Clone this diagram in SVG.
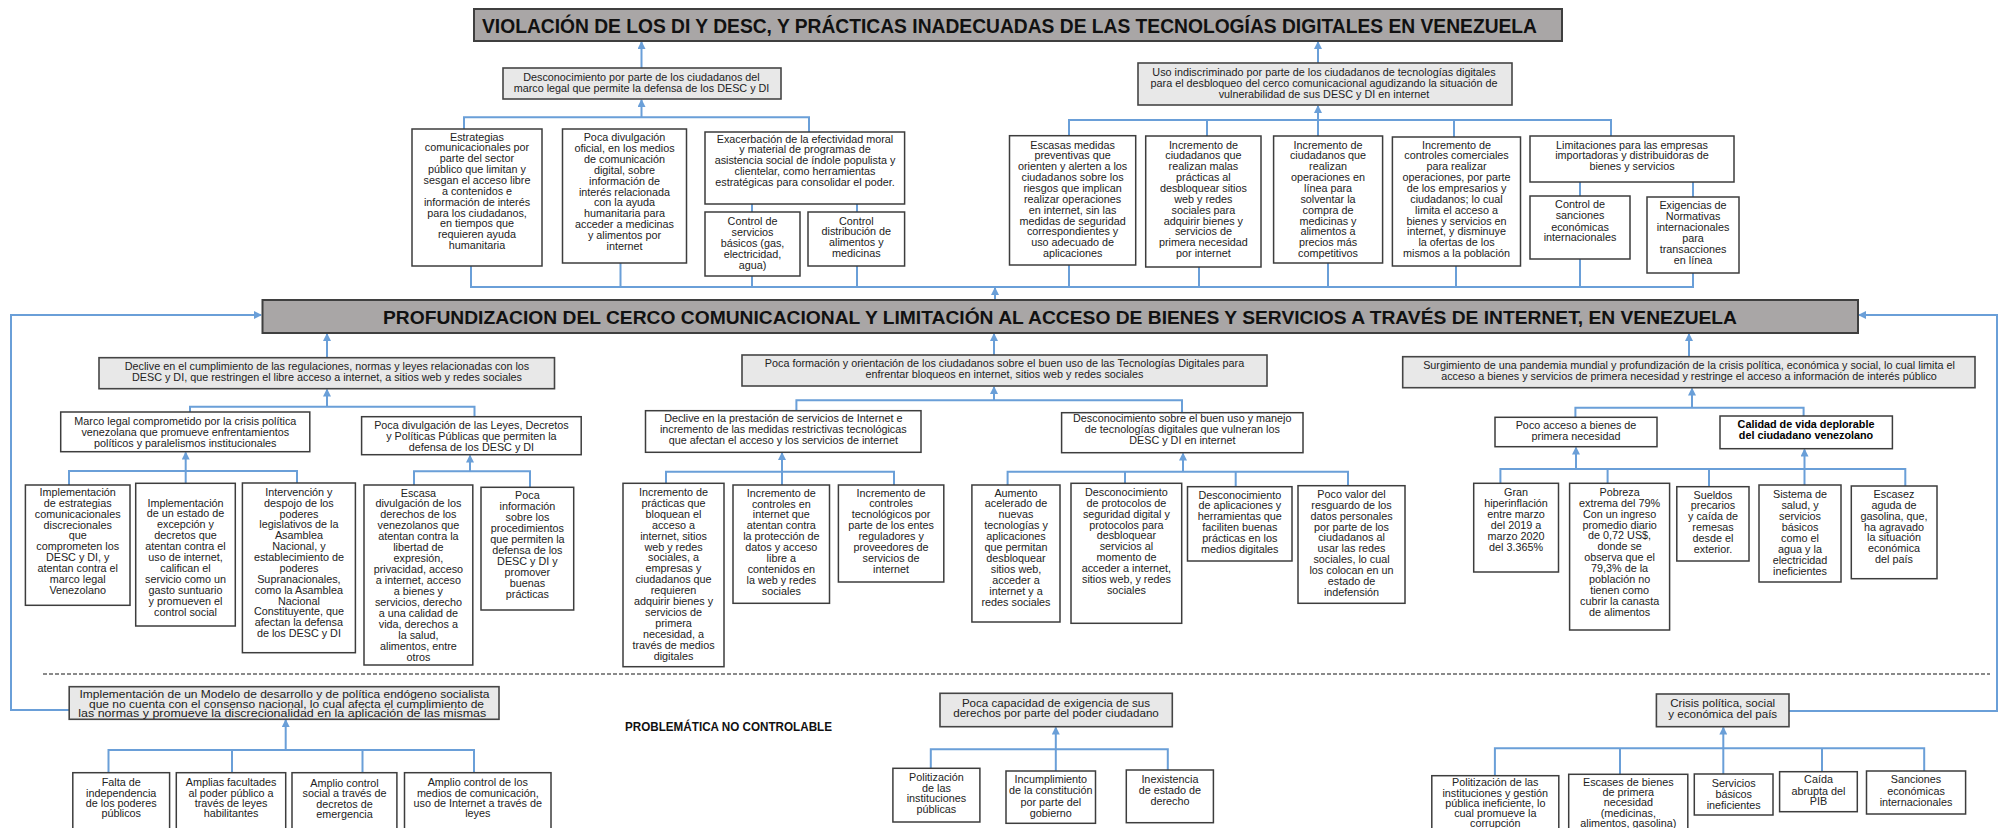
<svg xmlns="http://www.w3.org/2000/svg" width="2000" height="828" viewBox="0 0 2000 828">
<defs>
<style>
.b{fill:#fff;stroke:#3d3d3d;stroke-width:1.5}
.g{fill:#e8e8e8;stroke:#454545;stroke-width:1.6}
.h{fill:#a9a6a6;stroke:#3f3f3f;stroke-width:2}
text{font-family:'Liberation Sans',Arial,sans-serif;fill:#222;text-anchor:middle}
.t{font-size:10.8px}
.m{font-size:11.6px}
.bold{font-weight:bold}
.ttl{font-size:19.5px;font-weight:bold;fill:#111;text-anchor:start}
.c{fill:none;stroke:#6a9fd8;stroke-width:2}
.a{fill:none;stroke:#6a9fd8;stroke-width:2;marker-end:url(#ar)}
.d{fill:none;stroke:#8a8a8a;stroke-width:2;stroke-dasharray:4 2}
</style>
<marker id="ar" markerUnits="userSpaceOnUse" markerWidth="8" markerHeight="8" refX="7" refY="4" orient="auto">
<path d="M0,0 L8,4 L0,8 z" fill="#6a9fd8"/>
</marker>
</defs>
<rect width="2000" height="828" fill="#fff"/>

<g id="connectors">
<path class="a" d="M641.5,68 V42"/>
<path class="a" d="M641.5,117.3 V100"/>
<path class="c" d="M464,129 V117.3 H809 V132"/>
<path class="a" d="M1318,63 V42"/>
<path class="a" d="M1318,136 V106"/>
<path class="c" d="M1069,136 V120 H1611 V136 M1207,120 V136 M1454,120 V137"/>
<path class="c" d="M752,204 V212 M857,204 V212 M1580,182 V196 M1693,182 V197"/>
<path class="c" d="M471,266 V287 H1693 V273 M620.5,263 V287 M752,276 V287 M857,266 V287 M1069,265 V287 M1199,267 V287 M1328,263 V287 M1456,266 V287 M1580,259 V287"/>
<path class="a" d="M995,300 V288"/>
<path class="a" d="M69,710 H11 V315 H261"/>
<path class="a" d="M1789,711 H1997 V315 H1859"/>
<path class="a" d="M327,358 V334"/>
<path class="a" d="M327,406.7 V389.5"/>
<path class="c" d="M190,412 V406.7 H474.5 V416.7"/>
<path class="a" d="M185.7,483 V452.5"/>
<path class="c" d="M69,485 V471 H297 V483"/>
<path class="a" d="M470,471.3 V455.5"/>
<path class="c" d="M414,485 V471.3 H530 V487.3"/>
<path class="a" d="M994,355 V334"/>
<path class="a" d="M994,400.3 V387"/>
<path class="c" d="M796.4,410.7 V400.3 H1182 V412.7"/>
<path class="a" d="M782,485 V453"/>
<path class="c" d="M666,483.3 V471.7 H894 V485"/>
<path class="a" d="M1183,471.7 V453.5"/>
<path class="c" d="M1007.6,485 V471.7 H1348 V485.7 M1125,483.3 V471.7 M1235.7,486.7 V471.7"/>
<path class="a" d="M1689,356.7 V334"/>
<path class="a" d="M1692,407.7 V388.5"/>
<path class="c" d="M1575.4,417.3 V407.7 H1803.6 V416"/>
<path class="a" d="M1576,469 V447.5"/>
<path class="a" d="M1804.5,485 V449.5"/>
<path class="c" d="M1500.4,483.3 V469 H1905.3 V486 M1607.6,483.3 V469 M1709,486.7 V469"/>
<path class="a" d="M285.7,750 V720"/>
<path class="c" d="M108.5,772.7 V750 H474 V772.7 M232,772.7 V750 M362.5,772.7 V750"/>
<path class="a" d="M1055.8,771 V727.5"/>
<path class="c" d="M930.8,768.3 V749.3 H1167.8 V770"/>
<path class="a" d="M1723.3,774 V727.5"/>
<path class="c" d="M1494.9,775.7 V748.3 H1924.2 V771 M1620,774.3 V748.3 M1822,771.7 V748.3"/>
<path class="d" d="M43,674 H1990"/>
</g>

<g id="title">
<rect class="h" x="474" y="9" width="1088" height="32"/>
<text class="ttl" x="482" y="32.5" textLength="1055" lengthAdjust="spacingAndGlyphs">VIOLACIÓN DE LOS DI Y DESC, Y PRÁCTICAS INADECUADAS DE LAS TECNOLOGÍAS DIGITALES EN VENEZUELA</text>
</g>

<g id="n_desconocimiento_marco">
<rect class="g" x="503" y="68" width="278" height="31"/>
<text class="t"><tspan x="641.5" y="80.5">Desconocimiento por parte de los ciudadanos del</tspan><tspan x="641.5" y="91.5">marco legal que permite la defensa de los DESC y DI</tspan></text>
</g>

<g id="n_uso">
<rect class="g" x="1138" y="63" width="374" height="42"/>
<text class="t"><tspan x="1324" y="76">Uso indiscriminado por parte de los ciudadanos de tecnologías digitales</tspan><tspan x="1324" y="87">para el desbloqueo del cerco comunicacional agudizando la situación de</tspan><tspan x="1324" y="98">vulnerabilidad de sus DESC y DI en internet</tspan></text>
</g>

<g id="n_estrategias">
<rect class="b" x="412" y="129" width="130" height="137"/>
<text class="t"><tspan x="477" y="140.5">Estrategias</tspan><tspan x="477" y="151.4">comunicacionales por</tspan><tspan x="477" y="162.2">parte del sector</tspan><tspan x="477" y="173.1">público que limitan y</tspan><tspan x="477" y="183.9">sesgan el acceso libre</tspan><tspan x="477" y="194.8">a contenidos e</tspan><tspan x="477" y="205.7">información de interés</tspan><tspan x="477" y="216.5">para los ciudadanos,</tspan><tspan x="477" y="227.4">en tiempos que</tspan><tspan x="477" y="238.2">requieren ayuda</tspan><tspan x="477" y="249.1">humanitaria</tspan></text>
</g>

<g id="n_poca_div_oficial">
<rect class="b" x="562.5" y="129" width="124" height="134"/>
<text class="t"><tspan x="624.5" y="141.1">Poca divulgación</tspan><tspan x="624.5" y="152">oficial, en los medios</tspan><tspan x="624.5" y="162.9">de comunicación</tspan><tspan x="624.5" y="173.7">digital, sobre</tspan><tspan x="624.5" y="184.6">información de</tspan><tspan x="624.5" y="195.5">interés relacionada</tspan><tspan x="624.5" y="206.3">con la ayuda</tspan><tspan x="624.5" y="217.2">humanitaria para</tspan><tspan x="624.5" y="228.1">acceder a medicinas</tspan><tspan x="624.5" y="238.9">y alimentos por</tspan><tspan x="624.5" y="249.8">internet</tspan></text>
</g>

<g id="n_exacerbacion">
<rect class="b" x="705" y="132" width="199.6" height="72"/>
<text class="t"><tspan x="805" y="142.5">Exacerbación de la efectividad moral</tspan><tspan x="805" y="153.4">y material de programas de</tspan><tspan x="805" y="164.3">asistencia social de índole populista y</tspan><tspan x="805" y="175.2">clientelar, como herramientas</tspan><tspan x="805" y="186.1">estratégicas para consolidar el poder.</tspan></text>
</g>

<g id="n_control_servicios">
<rect class="b" x="705" y="212" width="95" height="64"/>
<text class="t"><tspan x="752.5" y="224.5">Control de</tspan><tspan x="752.5" y="235.5">servicios</tspan><tspan x="752.5" y="246.5">básicos (gas,</tspan><tspan x="752.5" y="257.5">electricidad,</tspan><tspan x="752.5" y="268.5">agua)</tspan></text>
</g>

<g id="n_control_distribucion">
<rect class="b" x="808" y="212" width="96.6" height="54"/>
<text class="t"><tspan x="856.3" y="224.5">Control</tspan><tspan x="856.3" y="235.4">distribución de</tspan><tspan x="856.3" y="246.3">alimentos y</tspan><tspan x="856.3" y="257.2">medicinas</tspan></text>
</g>

<g id="n_escasas">
<rect class="b" x="1009.5" y="135.7" width="126.2" height="129.3"/>
<text class="t"><tspan x="1072.6" y="148.5">Escasas medidas</tspan><tspan x="1072.6" y="159.4">preventivas que</tspan><tspan x="1072.6" y="170.2">orienten y alerten a los</tspan><tspan x="1072.6" y="181.1">ciudadanos sobre los</tspan><tspan x="1072.6" y="191.9">riesgos que implican</tspan><tspan x="1072.6" y="202.8">realizar operaciones</tspan><tspan x="1072.6" y="213.7">en internet, sin las</tspan><tspan x="1072.6" y="224.5">medidas de seguridad</tspan><tspan x="1072.6" y="235.4">correspondientes y</tspan><tspan x="1072.6" y="246.2">uso adecuado de</tspan><tspan x="1072.6" y="257.1">aplicaciones</tspan></text>
</g>

<g id="n_malas_practicas">
<rect class="b" x="1145.7" y="136" width="115.3" height="131"/>
<text class="t"><tspan x="1203.4" y="148.5">Incremento de</tspan><tspan x="1203.4" y="159.4">ciudadanos que</tspan><tspan x="1203.4" y="170.2">realizan malas</tspan><tspan x="1203.4" y="181.1">prácticas al</tspan><tspan x="1203.4" y="191.9">desbloquear sitios</tspan><tspan x="1203.4" y="202.8">web y redes</tspan><tspan x="1203.4" y="213.7">sociales para</tspan><tspan x="1203.4" y="224.5">adquirir bienes y</tspan><tspan x="1203.4" y="235.4">servicios de</tspan><tspan x="1203.4" y="246.2">primera necesidad</tspan><tspan x="1203.4" y="257.1">por internet</tspan></text>
</g>

<g id="n_operaciones_linea">
<rect class="b" x="1273.6" y="136" width="109" height="127"/>
<text class="t"><tspan x="1328" y="148.5">Incremento de</tspan><tspan x="1328" y="159.4">ciudadanos que</tspan><tspan x="1328" y="170.2">realizan</tspan><tspan x="1328" y="181.1">operaciones en</tspan><tspan x="1328" y="191.9">línea para</tspan><tspan x="1328" y="202.8">solventar la</tspan><tspan x="1328" y="213.7">compra de</tspan><tspan x="1328" y="224.5">medicinas y</tspan><tspan x="1328" y="235.4">alimentos a</tspan><tspan x="1328" y="246.2">precios más</tspan><tspan x="1328" y="257.1">competitivos</tspan></text>
</g>

<g id="n_controles_comerciales">
<rect class="b" x="1392.4" y="137" width="128.1" height="129"/>
<text class="t"><tspan x="1456.5" y="148.5">Incremento de</tspan><tspan x="1456.5" y="159.4">controles comerciales</tspan><tspan x="1456.5" y="170.2">para realizar</tspan><tspan x="1456.5" y="181.1">operaciones, por parte</tspan><tspan x="1456.5" y="191.9">de los empresarios y</tspan><tspan x="1456.5" y="202.8">ciudadanos; lo cual</tspan><tspan x="1456.5" y="213.7">limita el acceso a</tspan><tspan x="1456.5" y="224.5">bienes y servicios en</tspan><tspan x="1456.5" y="235.4">internet, y disminuye</tspan><tspan x="1456.5" y="246.2">la ofertas de los</tspan><tspan x="1456.5" y="257.1">mismos a la población</tspan></text>
</g>

<g id="n_limitaciones">
<rect class="b" x="1530" y="136" width="204" height="46"/>
<text class="t"><tspan x="1632" y="148.5">Limitaciones para las empresas</tspan><tspan x="1632" y="159.1">importadoras y distribuidoras de</tspan><tspan x="1632" y="169.8">bienes y servicios</tspan></text>
</g>

<g id="n_control_sanciones">
<rect class="b" x="1530" y="196" width="100" height="63"/>
<text class="t"><tspan x="1580" y="207.8">Control de</tspan><tspan x="1580" y="219.1">sanciones</tspan><tspan x="1580" y="230.5">económicas</tspan><tspan x="1580" y="241.1">internacionales</tspan></text>
</g>

<g id="n_exigencias">
<rect class="b" x="1647" y="197" width="92" height="76"/>
<text class="t"><tspan x="1693" y="209.1">Exigencias de</tspan><tspan x="1693" y="220">Normativas</tspan><tspan x="1693" y="231">internacionales</tspan><tspan x="1693" y="241.9">para</tspan><tspan x="1693" y="252.9">transacciones</tspan><tspan x="1693" y="263.8">en línea</tspan></text>
</g>

<g id="main">
<rect class="h" x="262.5" y="300" width="1595.5" height="33"/>
<text class="ttl" x="383" y="323.5" style="font-size:18px" textLength="1354" lengthAdjust="spacingAndGlyphs">PROFUNDIZACION DEL CERCO COMUNICACIONAL Y LIMITACIÓN AL ACCESO DE BIENES Y SERVICIOS A TRAVÉS DE INTERNET, EN VENEZUELA</text>
</g>

<g id="n_declive_cumplimiento">
<rect class="g" x="99" y="357.7" width="455.5" height="31"/>
<text class="t"><tspan x="327" y="369.8">Declive en el cumplimiento de las regulaciones, normas y leyes relacionadas con los</tspan><tspan x="327" y="381.1">DESC y DI,  que restringen el libre acceso a internet, a sitios web y redes sociales</tspan></text>
</g>

<g id="n_marco_legal">
<rect class="b" x="60.7" y="412" width="249.1" height="39.7"/>
<text class="t"><tspan x="185.3" y="424.5">Marco legal comprometido por la crisis política</tspan><tspan x="185.3" y="435.5">venezolana que promueve enfrentamientos</tspan><tspan x="185.3" y="446.5">políticos y paralelismos institucionales</tspan></text>
</g>

<g id="n_poca_div_leyes">
<rect class="b" x="361.6" y="416.7" width="219.6" height="38"/>
<text class="t"><tspan x="471.4" y="429.1">Poca divulgación de las Leyes, Decretos</tspan><tspan x="471.4" y="439.8">y Políticas Públicas que permiten la</tspan><tspan x="471.4" y="450.5">defensa de los DESC y DI</tspan></text>
</g>

<g id="n_impl_estrategias">
<rect class="b" x="25.4" y="485" width="104.6" height="120.3"/>
<text class="t"><tspan x="77.7" y="495.8">Implementación</tspan><tspan x="77.7" y="506.7">de estrategias</tspan><tspan x="77.7" y="517.6">comunicacionales</tspan><tspan x="77.7" y="528.5">discrecionales</tspan><tspan x="77.7" y="539.4">que</tspan><tspan x="77.7" y="550.3">comprometen los</tspan><tspan x="77.7" y="561.2">DESC y DI, y</tspan><tspan x="77.7" y="572.1">atentan contra el</tspan><tspan x="77.7" y="583">marco legal</tspan><tspan x="77.7" y="593.9">Venezolano</tspan></text>
</g>

<g id="n_impl_estado">
<rect class="b" x="135.7" y="483.3" width="99.6" height="142.7"/>
<text class="t"><tspan x="185.5" y="506.5">Implementación</tspan><tspan x="185.5" y="517.4">de un estado de</tspan><tspan x="185.5" y="528.4">excepción y</tspan><tspan x="185.5" y="539.3">decretos que</tspan><tspan x="185.5" y="550.2">atentan contra el</tspan><tspan x="185.5" y="561.2">uso de internet,</tspan><tspan x="185.5" y="572.1">califican el</tspan><tspan x="185.5" y="583">servicio como un</tspan><tspan x="185.5" y="594">gasto suntuario</tspan><tspan x="185.5" y="604.9">y promueven el</tspan><tspan x="185.5" y="615.8">control social</tspan></text>
</g>

<g id="n_intervencion">
<rect class="b" x="242.4" y="483" width="113" height="169.7"/>
<text class="t"><tspan x="298.9" y="495.8">Intervención y</tspan><tspan x="298.9" y="506.7">despojo de los</tspan><tspan x="298.9" y="517.5">poderes</tspan><tspan x="298.9" y="528.4">legislativos de la</tspan><tspan x="298.9" y="539.3">Asamblea</tspan><tspan x="298.9" y="550.2">Nacional, y</tspan><tspan x="298.9" y="561">establecimiento de</tspan><tspan x="298.9" y="571.9">poderes</tspan><tspan x="298.9" y="582.8">Supranacionales,</tspan><tspan x="298.9" y="593.6">como la Asamblea</tspan><tspan x="298.9" y="604.5">Nacional</tspan><tspan x="298.9" y="615.4">Constituyente, que</tspan><tspan x="298.9" y="626.2">afectan la defensa</tspan><tspan x="298.9" y="637.1">de los DESC y DI</tspan></text>
</g>

<g id="n_escasa_div">
<rect class="b" x="364" y="485" width="108.8" height="180"/>
<text class="t"><tspan x="418.4" y="496.5">Escasa</tspan><tspan x="418.4" y="507.4">divulgación de los</tspan><tspan x="418.4" y="518.4">derechos de los</tspan><tspan x="418.4" y="529.3">venezolanos  que</tspan><tspan x="418.4" y="540.2">atentan contra la</tspan><tspan x="418.4" y="551.2">libertad de</tspan><tspan x="418.4" y="562.1">expresión,</tspan><tspan x="418.4" y="573">privacidad, acceso</tspan><tspan x="418.4" y="583.9">a internet, acceso</tspan><tspan x="418.4" y="594.9">a bienes y</tspan><tspan x="418.4" y="605.8">servicios, derecho</tspan><tspan x="418.4" y="616.7">a una calidad de</tspan><tspan x="418.4" y="627.7">vida,  derechos a</tspan><tspan x="418.4" y="638.6">la salud,</tspan><tspan x="418.4" y="649.5">alimentos, entre</tspan><tspan x="418.4" y="660.5">otros</tspan></text>
</g>

<g id="n_poca_info">
<rect class="b" x="481" y="487.3" width="92.7" height="122.7"/>
<text class="t"><tspan x="527.4" y="499.1">Poca</tspan><tspan x="527.4" y="510.1">información</tspan><tspan x="527.4" y="521">sobre los</tspan><tspan x="527.4" y="532">procedimientos</tspan><tspan x="527.4" y="543">que permiten la</tspan><tspan x="527.4" y="554">defensa de los</tspan><tspan x="527.4" y="564.9">DESC y DI y</tspan><tspan x="527.4" y="575.9">promover</tspan><tspan x="527.4" y="586.9">buenas</tspan><tspan x="527.4" y="597.8">prácticas</tspan></text>
</g>

<g id="n_poca_formacion">
<rect class="g" x="742" y="355" width="525" height="31"/>
<text class="t"><tspan x="1004.5" y="366.5">Poca formación y orientación de los ciudadanos sobre el buen uso de las Tecnologías Digitales para</tspan><tspan x="1004.5" y="377.8">enfrentar bloqueos en internet, sitios web y redes sociales</tspan></text>
</g>

<g id="n_declive_prestacion">
<rect class="b" x="645.5" y="410.7" width="275.5" height="41.6"/>
<text class="t"><tspan x="783.3" y="422.1">Declive en la prestación de servicios de Internet e</tspan><tspan x="783.3" y="433.1">incremento de las medidas restrictivas tecnológicas</tspan><tspan x="783.3" y="444.1">que afectan el acceso y los servicios de internet</tspan></text>
</g>

<g id="n_desconocimiento_uso">
<rect class="b" x="1061.6" y="412.7" width="241.4" height="40"/>
<text class="t"><tspan x="1182.3" y="422.1">Desconocimiento sobre el buen uso y manejo</tspan><tspan x="1182.3" y="433.1">de tecnologías digitales que vulneran los</tspan><tspan x="1182.3" y="444.1">DESC y DI en internet</tspan></text>
</g>

<g id="n_practicas_bloquean">
<rect class="b" x="623" y="483.3" width="101" height="183.4"/>
<text class="t"><tspan x="673.5" y="495.8">Incremento de</tspan><tspan x="673.5" y="506.7">prácticas que</tspan><tspan x="673.5" y="517.7">bloquean el</tspan><tspan x="673.5" y="528.6">acceso a</tspan><tspan x="673.5" y="539.5">internet, sitios</tspan><tspan x="673.5" y="550.5">web y  redes</tspan><tspan x="673.5" y="561.4">sociales, a</tspan><tspan x="673.5" y="572.3">empresas y</tspan><tspan x="673.5" y="583.2">ciudadanos que</tspan><tspan x="673.5" y="594.2">requieren</tspan><tspan x="673.5" y="605.1">adquirir bienes y</tspan><tspan x="673.5" y="616">servicios de</tspan><tspan x="673.5" y="627">primera</tspan><tspan x="673.5" y="637.9">necesidad, a</tspan><tspan x="673.5" y="648.8">través de medios</tspan><tspan x="673.5" y="659.8">digitales</tspan></text>
</g>

<g id="n_controles_internet">
<rect class="b" x="733" y="485" width="96.5" height="118.3"/>
<text class="t"><tspan x="781.3" y="496.5">Incremento de</tspan><tspan x="781.3" y="507.5">controles en</tspan><tspan x="781.3" y="518.4">internet que</tspan><tspan x="781.3" y="529.4">atentan contra</tspan><tspan x="781.3" y="540.3">la protección de</tspan><tspan x="781.3" y="551.3">datos y acceso</tspan><tspan x="781.3" y="562.3">libre a</tspan><tspan x="781.3" y="573.2">contenidos en</tspan><tspan x="781.3" y="584.2">la web y redes</tspan><tspan x="781.3" y="595.1">sociales</tspan></text>
</g>

<g id="n_controles_tecnologicos">
<rect class="b" x="838.4" y="485" width="105.4" height="97"/>
<text class="t"><tspan x="891.1" y="496.5">Incremento de</tspan><tspan x="891.1" y="507.4">controles</tspan><tspan x="891.1" y="518.4">tecnológicos por</tspan><tspan x="891.1" y="529.3">parte de los entes</tspan><tspan x="891.1" y="540.3">reguladores y</tspan><tspan x="891.1" y="551.2">proveedores de</tspan><tspan x="891.1" y="562.1">servicios de</tspan><tspan x="891.1" y="573.1">internet</tspan></text>
</g>

<g id="n_aumento">
<rect class="b" x="971.9" y="485" width="88.1" height="137"/>
<text class="t"><tspan x="1016" y="496.5">Aumento</tspan><tspan x="1016" y="507.4">acelerado de</tspan><tspan x="1016" y="518.4">nuevas</tspan><tspan x="1016" y="529.3">tecnologías y</tspan><tspan x="1016" y="540.2">aplicaciones</tspan><tspan x="1016" y="551.2">que permitan</tspan><tspan x="1016" y="562.1">desbloquear</tspan><tspan x="1016" y="573">sitios web,</tspan><tspan x="1016" y="583.9">acceder a</tspan><tspan x="1016" y="594.9">internet y  a</tspan><tspan x="1016" y="605.8">redes sociales</tspan></text>
</g>

<g id="n_desc_protocolos">
<rect class="b" x="1071" y="483.3" width="110.7" height="140"/>
<text class="t"><tspan x="1126.4" y="495.8">Desconocimiento</tspan><tspan x="1126.4" y="506.7">de protocolos de</tspan><tspan x="1126.4" y="517.6">seguridad digital y</tspan><tspan x="1126.4" y="528.5">protocolos para</tspan><tspan x="1126.4" y="539.4">desbloquear</tspan><tspan x="1126.4" y="550.3">servicios al</tspan><tspan x="1126.4" y="561.1">momento de</tspan><tspan x="1126.4" y="572">acceder a internet,</tspan><tspan x="1126.4" y="582.9">sitios web, y redes</tspan><tspan x="1126.4" y="593.8">sociales</tspan></text>
</g>

<g id="n_desc_aplicaciones">
<rect class="b" x="1187.5" y="486.7" width="104.5" height="74.3"/>
<text class="t"><tspan x="1239.8" y="498.5">Desconocimiento</tspan><tspan x="1239.8" y="509.4">de aplicaciones y</tspan><tspan x="1239.8" y="520.3">herramientas que</tspan><tspan x="1239.8" y="531.3">faciliten buenas</tspan><tspan x="1239.8" y="542.2">prácticas en los</tspan><tspan x="1239.8" y="553.1">medios digitales</tspan></text>
</g>

<g id="n_poco_valor">
<rect class="b" x="1298" y="485.7" width="107" height="117.6"/>
<text class="t"><tspan x="1351.5" y="497.8">Poco valor del</tspan><tspan x="1351.5" y="508.7">resguardo de los</tspan><tspan x="1351.5" y="519.6">datos personales</tspan><tspan x="1351.5" y="530.5">por parte de los</tspan><tspan x="1351.5" y="541.4">ciudadanos al</tspan><tspan x="1351.5" y="552.3">usar las redes</tspan><tspan x="1351.5" y="563.1">sociales, lo cual</tspan><tspan x="1351.5" y="574">los colocan en un</tspan><tspan x="1351.5" y="584.9">estado de</tspan><tspan x="1351.5" y="595.8">indefensión</tspan></text>
</g>

<g id="n_surgimiento">
<rect class="g" x="1402.7" y="356.7" width="572.3" height="31"/>
<text class="t"><tspan x="1689" y="369.1">Surgimiento de una pandemia mundial y profundización de la crisis política, económica y social, lo cual limita el</tspan><tspan x="1689" y="379.8">acceso a bienes y servicios de primera necesidad y restringe el acceso a información de interés público</tspan></text>
</g>

<g id="n_poco_acceso">
<rect class="b" x="1495" y="417.3" width="162" height="29.4"/>
<text class="t"><tspan x="1576" y="429.1">Poco acceso a bienes de</tspan><tspan x="1576" y="439.8">primera necesidad</tspan></text>
</g>

<g id="n_calidad">
<rect class="b" x="1720" y="416" width="172.4" height="32.7"/>
<text class="t bold" style="fill:#000"><tspan x="1806" y="428.1">Calidad de vida deplorable</tspan><tspan x="1806" y="438.8">del ciudadano venezolano</tspan></text>
</g>

<g id="n_hiperinflacion">
<rect class="b" x="1473.7" y="483.3" width="84.8" height="88.7"/>
<text class="t"><tspan x="1516" y="495.8">Gran</tspan><tspan x="1516" y="506.7">hiperinflación</tspan><tspan x="1516" y="517.7">entre marzo</tspan><tspan x="1516" y="528.6">del 2019 a</tspan><tspan x="1516" y="539.5">marzo 2020</tspan><tspan x="1516" y="550.5">del 3.365%</tspan></text>
</g>

<g id="n_pobreza">
<rect class="b" x="1569.6" y="483.3" width="100" height="146.7"/>
<text class="t"><tspan x="1619.6" y="495.8">Pobreza</tspan><tspan x="1619.6" y="506.7">extrema del 79%</tspan><tspan x="1619.6" y="517.6">Con un ingreso</tspan><tspan x="1619.6" y="528.5">promedio diario</tspan><tspan x="1619.6" y="539.4">de 0,72 US$,</tspan><tspan x="1619.6" y="550.4">donde se</tspan><tspan x="1619.6" y="561.3">observa que el</tspan><tspan x="1619.6" y="572.2">79,3% de la</tspan><tspan x="1619.6" y="583.1">población no</tspan><tspan x="1619.6" y="594">tienen como</tspan><tspan x="1619.6" y="604.9">cubrir la canasta</tspan><tspan x="1619.6" y="615.8">de alimentos</tspan></text>
</g>

<g id="n_sueldos">
<rect class="b" x="1676.8" y="486.7" width="72.2" height="74.3"/>
<text class="t"><tspan x="1713" y="498.5">Sueldos</tspan><tspan x="1713" y="509.4">precarios</tspan><tspan x="1713" y="520.3">y  caída de</tspan><tspan x="1713" y="531.3">remesas</tspan><tspan x="1713" y="542.2">desde el</tspan><tspan x="1713" y="553.1">exterior.</tspan></text>
</g>

<g id="n_sistema_salud">
<rect class="b" x="1759" y="485" width="82" height="97"/>
<text class="t"><tspan x="1800" y="497.8">Sistema de</tspan><tspan x="1800" y="508.8">salud, y</tspan><tspan x="1800" y="519.7">servicios</tspan><tspan x="1800" y="530.7">básicos</tspan><tspan x="1800" y="541.6">como el</tspan><tspan x="1800" y="552.6">agua y la</tspan><tspan x="1800" y="563.6">electricidad</tspan><tspan x="1800" y="574.5">ineficientes</tspan></text>
</g>

<g id="n_escasez_gasolina">
<rect class="b" x="1851.3" y="486" width="85.7" height="92.7"/>
<text class="t"><tspan x="1894" y="497.8">Escasez</tspan><tspan x="1894" y="508.7">aguda de</tspan><tspan x="1894" y="519.6">gasolina, que,</tspan><tspan x="1894" y="530.5">ha agravado</tspan><tspan x="1894" y="541.4">la situación</tspan><tspan x="1894" y="552.3">económica</tspan><tspan x="1894" y="563.1">del país</tspan></text>
</g>

<g id="n_modelo">
<rect class="g" x="69.2" y="686.7" width="429.8" height="32.6"/>
<text style="font-size:10px"><tspan x="284.5" y="698.3" textLength="410" lengthAdjust="spacingAndGlyphs">Implementación  de un Modelo de desarrollo  y de política endógeno  socialista</tspan><tspan x="286.5" y="707.5" textLength="395" lengthAdjust="spacingAndGlyphs">que no cuenta con el consenso nacional, lo cual afecta el cumplimiento de</tspan><tspan x="282.3" y="716.7" textLength="408" lengthAdjust="spacingAndGlyphs">las normas  y promueve  la discrecionalidad  en la aplicación de las mismas</tspan></text>
</g>

<g id="n_falta">
<rect class="b" x="72.8" y="772.7" width="96.8" height="70"/>
<text class="t"><tspan x="121.2" y="785.5">Falta de</tspan><tspan x="121.2" y="796.5">independencia</tspan><tspan x="121.2" y="807.1">de los poderes</tspan><tspan x="121.2" y="817.1">públicos</tspan></text>
</g>

<g id="n_amplias">
<rect class="b" x="176.3" y="772.7" width="109.4" height="70"/>
<text class="t"><tspan x="231" y="785.5">Amplias facultades</tspan><tspan x="231" y="796.5">al poder público a</tspan><tspan x="231" y="807.1">través de leyes</tspan><tspan x="231" y="817.1">habilitantes</tspan></text>
</g>

<g id="n_amplio_social">
<rect class="b" x="292" y="772.7" width="104.9" height="70"/>
<text class="t"><tspan x="344.5" y="787.1">Amplio control</tspan><tspan x="344.5" y="797.1">social a través de</tspan><tspan x="344.5" y="808.1">decretos de</tspan><tspan x="344.5" y="817.8">emergencia</tspan></text>
</g>

<g id="n_amplio_medios">
<rect class="b" x="404.5" y="772.7" width="146.5" height="70"/>
<text class="t"><tspan x="477.8" y="785.5">Amplio control de los</tspan><tspan x="477.8" y="796.5">medios de comunicación,</tspan><tspan x="477.8" y="807.1">uso de Internet a través de</tspan><tspan x="477.8" y="817.1">leyes</tspan></text>
</g>

<g id="label_no_controlable">
<text class="bold" x="625" y="731" style="font-size:12.5px;text-anchor:start;fill:#111" textLength="207" lengthAdjust="spacingAndGlyphs">PROBLEMÁTICA NO CONTROLABLE</text>
</g>

<g id="n_poca_capacidad">
<rect class="g" x="940" y="693.3" width="232.3" height="33.4"/>
<text class="m"><tspan x="1056" y="706.5">Poca capacidad de exigencia de sus</tspan><tspan x="1056" y="717">derechos  por parte del poder ciudadano</tspan></text>
</g>

<g id="n_politizacion">
<rect class="b" x="892.9" y="768.3" width="87" height="53.7"/>
<text class="t"><tspan x="936.4" y="781.1">Politización</tspan><tspan x="936.4" y="791.5">de las</tspan><tspan x="936.4" y="802.1">instituciones</tspan><tspan x="936.4" y="813.1">públicas</tspan></text>
</g>

<g id="n_incumplimiento">
<rect class="b" x="1006" y="771" width="89.5" height="52.3"/>
<text class="t"><tspan x="1050.8" y="783">Incumplimiento</tspan><tspan x="1050.8" y="794.3">de la constitución</tspan><tspan x="1050.8" y="805.6">por parte del</tspan><tspan x="1050.8" y="816.9">gobierno</tspan></text>
</g>

<g id="n_inexistencia">
<rect class="b" x="1126.3" y="770" width="87.1" height="52.7"/>
<text class="t"><tspan x="1169.9" y="782.8">Inexistencia</tspan><tspan x="1169.9" y="793.8">de estado de</tspan><tspan x="1169.9" y="804.5">derecho</tspan></text>
</g>

<g id="n_crisis">
<rect class="g" x="1656.4" y="694" width="132.6" height="32.7"/>
<text class="m"><tspan x="1722.7" y="707.2">Crisis política, social</tspan><tspan x="1722.7" y="717.5">y económica del país</tspan></text>
</g>

<g id="n_politizacion_gestion">
<rect class="b" x="1431.8" y="775.7" width="127" height="70"/>
<text class="t"><tspan x="1495.3" y="786.3">Politización de las</tspan><tspan x="1495.3" y="796.5">instituciones y gestión</tspan><tspan x="1495.3" y="806.7">pública ineficiente, lo</tspan><tspan x="1495.3" y="816.9">cual promueve la</tspan><tspan x="1495.3" y="827">corrupción</tspan></text>
</g>

<g id="n_escases_bienes">
<rect class="b" x="1568.7" y="774.3" width="119.1" height="70"/>
<text class="t"><tspan x="1628.3" y="786">Escases de bienes</tspan><tspan x="1628.3" y="796.2">de primera</tspan><tspan x="1628.3" y="806.4">necesidad</tspan><tspan x="1628.3" y="816.6">(medicinas,</tspan><tspan x="1628.3" y="826.6">alimentos, gasolina)</tspan></text>
</g>

<g id="n_servicios_basicos">
<rect class="b" x="1694.3" y="774" width="78.7" height="41"/>
<text class="t"><tspan x="1733.7" y="787.1">Servicios</tspan><tspan x="1733.7" y="797.8">básicos</tspan><tspan x="1733.7" y="808.8">ineficientes</tspan></text>
</g>

<g id="n_caida_pib">
<rect class="b" x="1779.6" y="771.7" width="77.7" height="40"/>
<text class="t"><tspan x="1818.5" y="782.8">Caída</tspan><tspan x="1818.5" y="794.5">abrupta del</tspan><tspan x="1818.5" y="804.5">PIB</tspan></text>
</g>

<g id="n_sanciones">
<rect class="b" x="1866.5" y="771" width="99.1" height="43"/>
<text class="t"><tspan x="1916" y="782.8">Sanciones</tspan><tspan x="1916" y="794.5">económicas</tspan><tspan x="1916" y="805.5">internacionales</tspan></text>
</g>
</svg>
